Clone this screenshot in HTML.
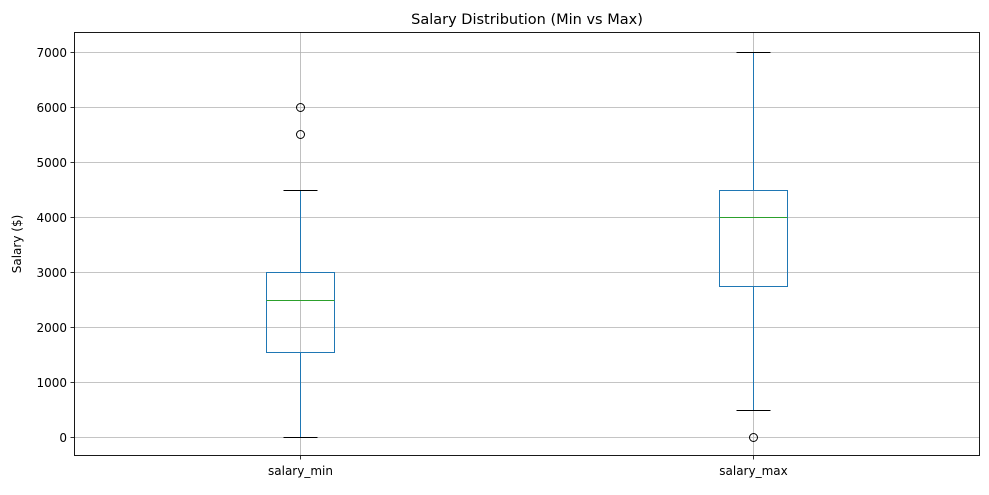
<!DOCTYPE html>
<html><head><meta charset="utf-8"><style>
body{margin:0;background:#fff;font-family:"Liberation Sans","DejaVu Sans",sans-serif}
svg text{font-family:"DejaVu Sans","Liberation Sans",sans-serif}
</style></head><body>
<svg id="chart" width="989" height="490" xmlns="http://www.w3.org/2000/svg"></svg>
<script>
const categories = ["salary_min", "salary_max"];
const whiskerLow = [0, 500];
const q1Values = [1550, 2750];
const medians = [2500, 4000];
const q3Values = [3000, 4500];
const whiskerHigh = [4500, 7000];
const outliers = [[5500, 6000], [0]];
const yTicks = [0, 1000, 2000, 3000, 4000, 5000, 6000, 7000];

const L = 74, R = 980, T = 32, B = 456;
const yMin = -350, yMax = 7350;
const yRaw = v => B - (v - yMin) / (yMax - yMin) * (B - T);
const y = v => Math.round(yRaw(v) + 0.6) + 0.5;
const x = i => Math.floor(L + ((i + 1) - 0.5) / 2 * (R - L)) + 0.5;
const pxPerUnit = (R - L) / 2;
const svg = document.getElementById('chart');
const NS = 'http://www.w3.org/2000/svg';
function mk(tag, attrs, name, parent) {
  const e = document.createElementNS(NS, tag);
  for (const k in attrs) e.setAttribute(k, attrs[k]);
  
  
  (parent || svg).appendChild(e);
  return e;
}
yTicks.forEach(t => {
  mk('line', {x1: L, x2: R, y1: y(t), y2: y(t), stroke: '#b0b0b0', 'stroke-width': 0.8}, 'y-gridline');
});
categories.forEach((c, i) => {
  mk('line', {x1: x(i), x2: x(i), y1: T, y2: B, stroke: '#b0b0b0', 'stroke-width': 0.8}, 'x-gridline');
});
categories.forEach((c, i) => {
  const cx = x(i), hw = Math.round(0.075 * pxPerUnit), cw = Math.round(hw / 2);
  const col = '#1f77b4';
  mk('line', {x1: cx, x2: cx, y1: y(q1Values[i]), y2: y(whiskerLow[i]), stroke: col, 'stroke-width': 1}, 'lower-whisker');
  mk('line', {x1: cx, x2: cx, y1: y(q3Values[i]), y2: y(whiskerHigh[i]), stroke: col, 'stroke-width': 1}, 'upper-whisker');
  mk('line', {x1: cx - cw, x2: cx + cw, y1: y(whiskerLow[i]), y2: y(whiskerLow[i]), stroke: '#000', 'stroke-width': 1}, 'lower-cap');
  mk('line', {x1: cx - cw, x2: cx + cw, y1: y(whiskerHigh[i]), y2: y(whiskerHigh[i]), stroke: '#000', 'stroke-width': 1}, 'upper-cap');
  mk('rect', {x: cx - hw, y: y(q3Values[i]), width: 2 * hw, height: y(q1Values[i]) - y(q3Values[i]), fill: 'none', stroke: col, 'stroke-width': 1}, 'box-' + c);
  mk('line', {x1: cx - hw, x2: cx + hw, y1: y(medians[i]), y2: y(medians[i]), stroke: '#2ca02c', 'stroke-width': 1}, 'median-line');
  outliers[i].forEach(v => {
    mk('circle', {cx: cx, cy: y(v), r: 4, fill: 'none', stroke: '#000', 'stroke-width': 1}, 'outlier-point');
  });
});
mk('rect', {x: L + 0.5, y: T + 0.5, width: R - L - 1, height: B - T - 1, fill: 'none', stroke: '#000', 'stroke-width': 0.9}, 'plot-frame');
yTicks.forEach(t => {
  mk('line', {x1: L - 3.5, x2: L, y1: y(t), y2: y(t), stroke: '#000', 'stroke-width': 0.8}, 'y-tick');
  const tx = mk('text', {x: L - 7, y: y(t) + 4.5, 'text-anchor': 'end', 'font-size': 12}, 'y-tick-label');
  tx.textContent = t;
});
categories.forEach((c, i) => {
  mk('line', {x1: x(i), x2: x(i), y1: B, y2: B + 3.5, stroke: '#000', 'stroke-width': 0.8}, 'x-tick');
  const tx = mk('text', {x: x(i), y: B + 19, 'text-anchor': 'middle', 'font-size': 12}, 'x-tick-label');
  tx.textContent = c;
});
const title = mk('text', {x: (L + R) / 2, y: 24, 'text-anchor': 'middle', 'font-size': 14.5}, 'chart-title');
title.textContent = 'Salary Distribution (Min vs Max)';
const yl = mk('text', {x: 0, y: 0, 'text-anchor': 'middle', 'font-size': 12, transform: 'translate(21,' + ((T + B) / 2) + ') rotate(-90)'}, 'y-axis-title');
yl.textContent = 'Salary ($)';
</script>
</body></html>
